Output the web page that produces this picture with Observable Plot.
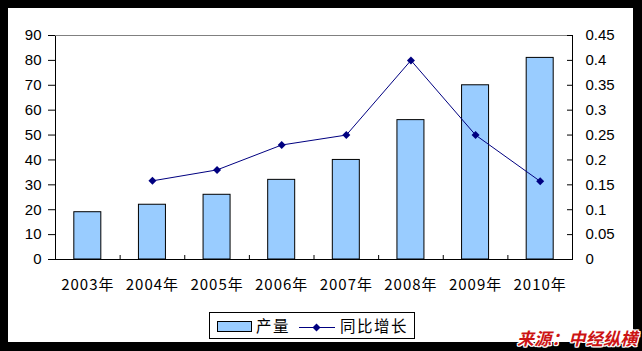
<!DOCTYPE html>
<html>
<head>
<meta charset="utf-8">
<script src="https://cdn.jsdelivr.net/npm/d3@7"></script>
<script src="https://cdn.jsdelivr.net/npm/@observablehq/plot@0.6"></script>
<style>
  html, body { margin: 0; padding: 0; background: #000; width: 642px; height: 351px; overflow: hidden; }
  #panel { position: absolute; left: 8px; top: 8px; width: 625px; height: 334px; background: #fff; }
  #chart { position: absolute; left: 0; top: 0; }
  #legend { position: absolute; left: 201px; top: 303.5px; }
  #source { position: absolute; left: 517px; top: 329px; font-family: "Noto Sans CJK SC", sans-serif; font-size: 17px; letter-spacing: 0.2px; font-weight: bold; font-style: italic; color: #cc1414; line-height: 1; white-space: nowrap;
    text-shadow: 1px 0 0 #fff, -1px 0 0 #fff, 0 1px 0 #fff, 0 -1px 0 #fff, 1px 1px 0 #fff, -1px -1px 0 #fff, 1px -1px 0 #fff, -1px 1px 0 #fff; }
</style>
</head>
<body>
<div id="panel">
  <div id="chart"></div>
  <div id="legend"></div>
</div>
<div id="source">来源：中经纵横</div>
<script>
const years = ["2003年", "2004年", "2005年", "2006年", "2007年", "2008年", "2009年", "2010年"];
const output = [19, 22, 26, 32, 40, 56, 70, 81];               // 产量
const growth = [null, 0.158, 0.18, 0.23, 0.25, 0.40, 0.25, 0.157]; // 同比增长
const leftTicks = [0, 10, 20, 30, 40, 50, 60, 70, 80, 90];
const rightTicks = [0, 0.05, 0.1, 0.15, 0.2, 0.25, 0.3, 0.35, 0.4, 0.45];
const rightTickLabels = ["0", "0.05", "0.1", "0.15", "0.2", "0.25", "0.3", "0.35", "0.4", "0.45"];
const seriesNames = ["产量", "同比增长"];

const barFill = "#99ccff";
const lineColor = "#000080";

const leftMax = leftTicks[leftTicks.length - 1];
const rightMax = rightTicks[rightTicks.length - 1];
const k = leftMax / rightMax;

const barData = years.map((y, i) => ({year: y, value: output[i]}));
const lineData = years.map((y, i) => ({year: y, g: growth[i]})).filter(d => d.g != null);

const W = 625, H = 300;
const mL = 47, mR = 61, mT = 27, mB = 49;
const plotW = W - mL - mR, plotH = H - mT - mB;
const step = plotW / years.length;
const barW = 27;
const inset = (step - barW) / 2;

const numFont = "'Liberation Sans', Arial, sans-serif";
const cjkFont = "'Noto Sans CJK SC', sans-serif";

const chart = Plot.plot({
  width: W, height: H,
  marginLeft: mL, marginRight: mR, marginTop: mT, marginBottom: mB,
  style: {background: "transparent", color: "#000", overflow: "visible"},
  x: {domain: years, padding: 0, round: false, label: null},
  y: {domain: [0, leftMax], label: null},
  marks: [
    Plot.barY(barData, {x: "year", y: "value", fill: barFill, stroke: "#000", strokeWidth: 1, insetLeft: inset, insetRight: inset}),
    Plot.frame({stroke: "#000"}),
    Plot.ruleY([leftMax], {stroke: "#808080"}),
    // x boundary ticks (inward)
    Plot.tickX(years, {x: d => d, dx: step / 2, stroke: "#000", insetTop: plotH - 4}),
    // right axis ticks (inward)
    Plot.tickY(rightTicks, {y: d => d * k, stroke: "#000", insetLeft: plotW - 5}),
    Plot.line(lineData, {x: "year", y: d => d.g * k, stroke: lineColor, strokeWidth: 1}),
    Plot.dot(lineData, {x: "year", y: d => d.g * k, symbol: "diamond2", r: 3.6, fill: lineColor, stroke: "none"}),
    Plot.axisY({anchor: "left", ticks: leftTicks, tickSize: 7, tickPadding: 7, fontSize: 15, fontFamily: numFont, tickFormat: d => String(d), label: null}),
    Plot.axisY({anchor: "right", ticks: rightTicks.map(d => d * k), tickSize: 0, tickPadding: 13, fontSize: 15, fontFamily: numFont,
      tickFormat: d => rightTickLabels[rightTicks.findIndex(t => Math.abs(t * k - d) < 1e-6)], label: null}),
    Plot.axisX({anchor: "bottom", tickSize: 0, tickPadding: 20, fontSize: 15, fontFamily: cjkFont, label: null})
  ]
});
chart.querySelectorAll("[aria-label='x-axis tick label'] text").forEach(t => t.setAttribute("letter-spacing", "1"));
document.getElementById("chart").appendChild(chart);

// legend
const ns = "http://www.w3.org/2000/svg";
const lg = document.createElementNS(ns, "svg");
lg.setAttribute("width", 207);
lg.setAttribute("height", 28);
lg.innerHTML = `
  <rect x="0.5" y="0.5" width="205" height="26" fill="#fff" stroke="#000"/>
  <rect x="8.5" y="9.5" width="34" height="10" fill="${barFill}" stroke="#000"/>
  <text x="47" y="20" font-family="${cjkFont}" font-size="15.5" letter-spacing="1.5" fill="#000">${seriesNames[0]}</text>
  <line x1="90" x2="126" y1="15.5" y2="15.5" stroke="${lineColor}" stroke-width="1"/>
  <path d="M107.5,11.5 L111.5,15.5 L107.5,19.5 L103.5,15.5 Z" fill="${lineColor}"/>
  <text x="131" y="20" font-family="${cjkFont}" font-size="15.5" letter-spacing="1.5" fill="#000">${seriesNames[1]}</text>
`;
document.getElementById("legend").appendChild(lg);
</script>
</body>
</html>
